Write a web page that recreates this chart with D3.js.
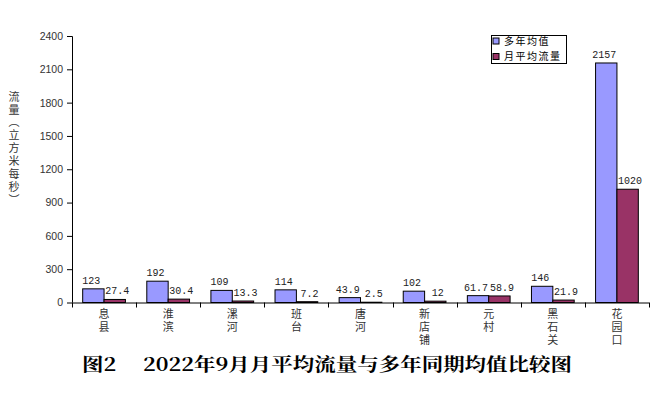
<!DOCTYPE html>
<html>
<head>
<meta charset="utf-8">
<script src="https://cdn.jsdelivr.net/npm/d3@7"></script>
<style>
  body { margin: 0; background: #fff; }
  svg { display: block; }
</style>
</head>
<body>
<svg class="viz" width="663" height="397"></svg>
<script>
// data
var stations = ["息县", "淮滨", "漯河", "班台", "唐河", "新店铺", "元村", "黑石关", "花园口"];
var multiYear = [123, 192, 109, 114, 43.9, 102, 61.7, 146, 2157];
var monthly = [27.4, 30.4, 13.3, 7.2, 2.5, 12, 58.9, 21.9, 1020];
var multiYearLabels = ["123", "192", "109", "114", "43.9", "102", "61.7", "146", "2157"];
var monthlyLabels = ["27.4", "30.4", "13.3", "7.2", "2.5", "12", "58.9", "21.9", "1020"];
var yTicks = [0, 300, 600, 900, 1200, 1500, 1800, 2100, 2400];
var seriesNames = ["多年均值", "月平均流量"];
var colors = ["#9999ff", "#993366"];
var yTitle = "流量（立方米每秒）";
var title = "图2\u3000 2022年9月月平均流量与多年同期均值比较图";

var svg = d3.select(".viz"),
    margin = {top: 36, right: 14, bottom: 95, left: 72},
    width = 577,
    height = 266.5;

var g = svg.append("g")
    .attr("transform", "translate(" + margin.left + "," + margin.top + ")");

var x = d3.scaleBand().domain(stations).range([0, width]).padding(0);
var y = d3.scaleLinear().domain([0, 2400]).range([height, 0]);

var bw = x.bandwidth() / 3;

// y axis
var yAxis = g.append("g")
    .call(d3.axisLeft(y).tickValues(yTicks).tickFormat(d3.format("d")).tickSize(5).tickPadding(4));
yAxis.select(".domain").attr("stroke", "#000").attr("d", "M-5,0.5H0.5V" + height);
yAxis.selectAll(".tick line").attr("stroke", "#000");
yAxis.selectAll(".tick text")
    .attr("font-family", "Liberation Sans, Arial, sans-serif")
    .attr("font-size", "10.5px")
    .attr("fill", "#333");

// x axis with ticks between categories
g.append("line")
    .attr("x1", 0).attr("x2", width)
    .attr("y1", height + 0.5).attr("y2", height + 0.5)
    .attr("stroke", "#000");
g.selectAll(".xtick")
    .data(d3.range(stations.length + 1))
    .enter().append("line")
    .attr("x1", function(i) { return Math.round(i * x.step()) + 0.5; })
    .attr("x2", function(i) { return Math.round(i * x.step()) + 0.5; })
    .attr("y1", height).attr("y2", height + 5)
    .attr("stroke", "#000");

// bars
var groups = g.selectAll(".cat")
    .data(stations)
    .enter().append("g")
    .attr("transform", function(d) { return "translate(" + x(d) + ",0)"; });

groups.append("rect")
    .attr("x", bw / 2)
    .attr("y", function(d, i) { return y(multiYear[i]); })
    .attr("width", bw)
    .attr("height", function(d, i) { return height - y(multiYear[i]); })
    .attr("fill", colors[0])
    .attr("stroke", "#000")
    .attr("stroke-width", 1);

groups.append("rect")
    .attr("x", bw * 1.5)
    .attr("y", function(d, i) { return y(monthly[i]); })
    .attr("width", bw)
    .attr("height", function(d, i) { return height - y(monthly[i]); })
    .attr("fill", colors[1])
    .attr("stroke", "#000")
    .attr("stroke-width", 1);

// value labels
groups.append("text")
    .attr("x", bw - 2)
    .attr("y", function(d, i) { return y(multiYear[i]) - 5; })
    .attr("text-anchor", "middle")
    .attr("font-family", "Liberation Mono, DejaVu Sans Mono, monospace")
    .attr("font-size", "10px")
    .attr("fill", "#222")
    .text(function(d, i) { return multiYearLabels[i]; });

groups.append("text")
    .attr("x", bw * 2 + 2.5)
    .attr("y", function(d, i) { return y(monthly[i]) - 5; })
    .attr("text-anchor", "middle")
    .attr("font-family", "Liberation Mono, DejaVu Sans Mono, monospace")
    .attr("font-size", "10px")
    .attr("fill", "#222")
    .text(function(d, i) { return monthlyLabels[i]; });

// category labels, written top to bottom
groups.append("text")
    .attr("x", x.bandwidth() / 2)
    .attr("y", height + 6)
    .style("writing-mode", "vertical-rl")
    .style("letter-spacing", "1.7px")
    .attr("font-family", "Noto Sans CJK SC, sans-serif")
    .attr("font-size", "11px")
    .attr("fill", "#333")
    .text(function(d) { return d; });

// y axis title, written top to bottom
svg.append("text")
    .attr("x", 14)
    .attr("y", 91)
    .style("writing-mode", "vertical-rl")
    .style("letter-spacing", "1.9px")
    .attr("font-family", "Noto Sans CJK SC, sans-serif")
    .attr("font-size", "11px")
    .attr("fill", "#333")
    .text(yTitle);

// legend
var legend = svg.append("g").attr("transform", "translate(491.5,35.5)");
legend.append("rect")
    .attr("width", 75).attr("height", 28)
    .attr("fill", "#fff").attr("stroke", "#000");
seriesNames.forEach(function(name, i) {
  legend.append("rect")
      .attr("x", 1.5).attr("y", 2.5 + i * 15.5)
      .attr("width", 6).attr("height", 6)
      .attr("fill", colors[i]).attr("stroke", "#000");
  legend.append("text")
      .attr("x", 12.5).attr("y", 9 + i * 15.5)
      .style("letter-spacing", "1.5px")
      .attr("font-family", "Noto Sans CJK SC, sans-serif")
      .attr("font-size", "10px")
      .attr("fill", "#000")
      .text(name);
});

// title
svg.append("text")
    .attr("x", 82).attr("y", 371)
    .attr("font-family", "Noto Serif CJK SC, Noto Sans CJK SC, serif")
    .attr("font-weight", "bold")
    .attr("font-size", "18px")
    .attr("textLength", 490)
    .attr("lengthAdjust", "spacingAndGlyphs")
    .attr("fill", "#000")
    .text(title);
</script>
</body>
</html>
